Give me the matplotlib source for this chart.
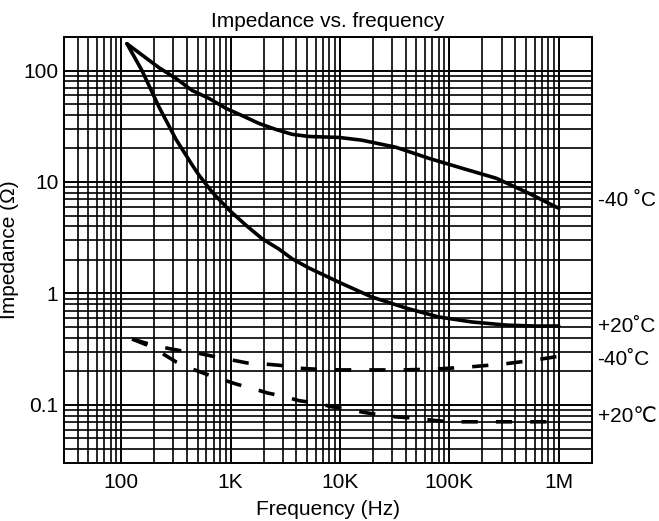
import numpy as np
import matplotlib
matplotlib.use("Agg")
from matplotlib import pyplot as plt
from matplotlib.ticker import LogLocator, FixedLocator, FixedFormatter, NullFormatter

plt.rcParams['font.family'] = ['Liberation Sans', 'DejaVu Sans']

# solid curves (impedance)
f_solid_m40 = [113, 222, 318, 446, 636, 910, 1270, 1820, 2600, 3640, 5210, 9800,
               15900, 32400, 65000, 130000, 268000, 534000, 1000000]
z_solid_m40 = [174, 106, 84.8, 66.2, 56.2, 45.7, 39.5, 33.5, 29.6, 26.8, 25.6, 25.1,
               23.7, 20.5, 16.3, 13.3, 10.8, 7.9, 5.8]

f_solid_p20 = [113, 155, 222, 318, 446, 515, 680, 970, 1380, 1940, 2770, 3640, 5210, 9800,
               19500, 40000, 80000, 160000, 330000, 600000, 1000000]
z_solid_p20 = [174, 100, 47, 24, 14.2, 11.5, 8.1, 5.6, 4.1, 3.1, 2.5, 2.05, 1.69, 1.26,
               0.93, 0.74, 0.615, 0.555, 0.52, 0.51, 0.51]

# dashed curves
f_dash_m40 = [126, 192, 275, 392, 515, 740, 1030, 1410, 2110, 2890, 4050, 5560, 9800,
              19200, 38500, 77000, 152000, 315000, 610000, 1050000]
z_dash_m40 = [0.39, 0.345, 0.32, 0.30, 0.29, 0.269, 0.253, 0.238, 0.232, 0.226, 0.214, 0.21,
              0.206, 0.206, 0.206, 0.21, 0.219, 0.233, 0.253, 0.275]

f_dash_p20 = [126, 192, 237, 318, 446, 597, 873, 1120, 1640, 2170, 3200, 4240, 6000, 8500,
              12600, 17300, 24300, 33000, 49500, 68000, 100000, 200000, 400000, 1000000]
z_dash_p20 = [0.39, 0.33, 0.29, 0.243, 0.21, 0.189, 0.167, 0.154, 0.139, 0.128, 0.118, 0.109,
              0.104, 0.096, 0.090, 0.085, 0.081, 0.078, 0.076, 0.073, 0.0705, 0.0705, 0.0705, 0.0705]

xticks = [100, 1e3, 1e4, 1e5, 1e6]
xlabels = ['100', '1K', '10K', '100K', '1M']
yticks = [0.1, 1, 10, 100]
ylabels = ['0.1', '1', '10', '100']

right_labels = ['-40 ˚C', '+20˚C', '-40˚C', '+20℃']
right_y = [6.85, 0.50, 0.253, 0.078]

fig = plt.figure(figsize=(6.59, 5.21), dpi=100)
ax = fig.add_axes([0.097, 0.111, 0.801, 0.818])
ax.set_xscale('log')
ax.set_yscale('log')
ax.set_xlim(30, 2e6)
ax.set_ylim(0.03, 200)

ax.xaxis.set_major_locator(FixedLocator(xticks))
ax.xaxis.set_major_formatter(FixedFormatter(xlabels))
ax.yaxis.set_major_locator(FixedLocator(yticks))
ax.yaxis.set_major_formatter(FixedFormatter(ylabels))
ax.xaxis.set_minor_locator(LogLocator(base=10, subs=range(2, 10), numticks=20))
ax.yaxis.set_minor_locator(LogLocator(base=10, subs=range(2, 10), numticks=20))
ax.xaxis.set_minor_formatter(NullFormatter())
ax.yaxis.set_minor_formatter(NullFormatter())
ax.tick_params(which='both', length=0, labelsize=15, colors='black')
ax.tick_params(axis='x', pad=7)
ax.tick_params(axis='y', pad=4)

ax.grid(True, which='major', color='black', linewidth=1.4)
ax.grid(True, which='minor', color='black', linewidth=1.2)
for s in ax.spines.values():
    s.set_linewidth(1.4)

ax.plot(f_solid_m40, z_solid_m40, color='black', linewidth=2.6, solid_capstyle='round')
ax.plot(f_solid_p20, z_solid_p20, color='black', linewidth=2.6, solid_capstyle='round')
ax.plot(f_dash_m40, z_dash_m40, color='black', linewidth=2.6, dashes=(4.5, 5))
ax.plot(f_dash_p20, z_dash_p20, color='black', linewidth=2.6, dashes=(4.5, 5))

for lab, yv in zip(right_labels, right_y):
    ax.text(1.011, yv, lab, transform=ax.get_yaxis_transform(), fontsize=15,
            va='center', ha='left')

ax.set_title('Impedance vs. frequency', fontsize=15, pad=7)
ax.set_xlabel('Frequency (Hz)', fontsize=15, labelpad=6)
ax.set_ylabel('Impedance (Ω)', fontsize=15, labelpad=3)

fig.savefig('out.png', dpi=100)
